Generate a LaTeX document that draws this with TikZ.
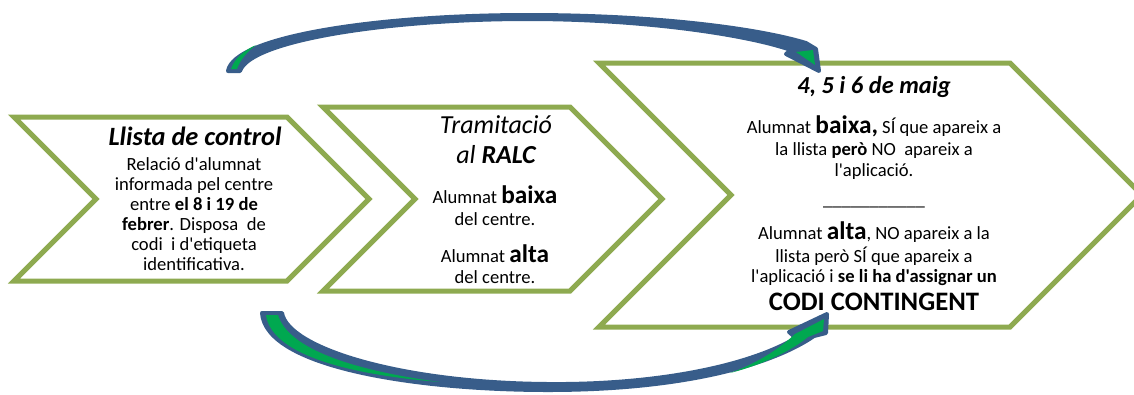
\documentclass[tikz,border=0pt]{standalone}
\usepackage{fontspec}
\setmainfont{Carlito}[Ligatures=TeXOff]
\definecolor{olive}{RGB}{142,170,80}
\definecolor{arrblue}{RGB}{56,93,138}
\definecolor{arrgreen}{RGB}{0,168,80}
\newcommand{\bigb}[1]{{\fontsize{19}{20}\selectfont\bfseries #1}}
\tikzset{
  chev/.style={draw=olive, line width=3.75pt, fill=white, line join=miter},
  blockarrow/.style={draw=arrblue, fill=arrblue, line width=3pt, line join=round},
  arrowfill/.style={fill=arrgreen},
  body/.style={font=\fontsize{13.95}{16}\selectfont, inner sep=0pt, anchor=base},
  headbi/.style={font=\fontsize{19.8}{22}\selectfont\bfseries\itshape, inner sep=0pt, anchor=base},
  headi/.style={font=\fontsize{19.5}{22}\selectfont\itshape, inner sep=0pt, anchor=base},
}
\begin{document}
\begin{tikzpicture}[x=0.75pt,y=-0.75pt]
\useasboundingbox (0,0) rectangle (1134,394);
% chevrons
\draw[chev] (14,117) -- (287,117) -- (369,199) -- (287,281) -- (14,281) -- (96,199) -- cycle;
\draw[chev] (323,107) -- (570,107) -- (662,199) -- (570,291) -- (323,291) -- (415,199) -- cycle;
\draw[chev] (599,63) -- (1010,63) -- (1142,195) -- (1010,327) -- (599,327) -- (731,195) -- cycle;
% chevron 1 text
\node[headbi] (t1) at (195,145) {Llista de control};
\node[body] (l1a) at (194,170) {Relació d'alumnat};
\node[body] (l1b) at (194,190) {informada pel centre};
\node[body] (l1c) at (194,210) {entre \textbf{el 8 i 19 de}};
\node[body] (l1d) at (194,230) {\textbf{febrer}. Disposa\ \ de};
\node[body] (l1e) at (194,250) {codi\ \ i d'etiqueta};
\node[body] (l1f) at (194,270) {identificativa.};
% chevron 2 text
\node[headi] (t2a) at (496,133) {Tramitació};
\node[headi] (t2b) at (496,163) {al \textbf{RALC}};
\node[body] (l2a) at (495,203) {Alumnat \bigb{baixa}};
\node[body] (l2b) at (495,225) {del centre.};
\node[body] (l2c) at (495,262) {Alumnat \bigb{alta}};
\node[body] (l2d) at (495,283) {del centre.};
% chevron 3 text
\node[inner sep=0pt, anchor=base, font=\fontsize{18.3}{20}\selectfont\bfseries\itshape] (t3) at (874,93) {4, 5 i 6 de maig};
\node[body] (l3a) at (874,133) {Alumnat \bigb{baixa,} SÍ que apareix a};
\node[body] (l3b) at (874,155) {la llista \textbf{però} NO\ \ apareix a};
\node[body] (l3c) at (874,176) {l'aplicació.};
\node[body] (l3d) at (874,205) {\_\_\_\_\_\_\_\_\_\_\_};
\node[body] (l3e) at (874,239) {Alumnat \bigb{alta}, NO apareix a la};
\node[body] (l3f) at (874,262) {llista però SÍ que apareix a};
\node[body] (l3g) at (874,282) {l'aplicació i \textbf{se li ha d'assignar un}};
\node[inner sep=0pt, anchor=base, font=\fontsize{20}{22}\selectfont\bfseries] (l3h) at (874,310) {CODI CONTINGENT};
% top curved arrow
\path[blockarrow] (228,71)
  .. controls (234,36) and (380,15) .. (528,15)
  .. controls (660,15) and (760,29) .. (806,43)
  -- (816,49) -- (819,71) -- (786,54) -- (791,50)
  .. controls (745,34) and (640,19) .. (528,19)
  .. controls (390,19) and (250,40) .. (240,71)
  -- cycle;
\path[arrowfill] (231,69) .. controls (235,58) and (243,51) .. (256,45)
  .. controls (247,52) and (240,60) .. (237,69) -- cycle;
\path[arrowfill] (796,52) -- (813,50) -- (815,65) -- cycle;
% bottom curved arrow
\path[blockarrow] (262,313)
  .. controls (266,368) and (420,390) .. (548,390)
  .. controls (680,390) and (770,366) .. (814,336)
  -- (826,333) -- (827,314) -- (789,332) -- (796,338)
  .. controls (745,368) and (650,385) .. (548,384)
  .. controls (400,383) and (288,348) .. (282,313)
  -- cycle;
\path[arrowfill] (266,315) .. controls (271,352) and (340,374) .. (440,382)
  .. controls (350,370) and (288,348) .. (278,315) -- cycle;
\path[arrowfill] (730,373) .. controls (765,364) and (792,350) .. (808,337)
  -- (823,331) -- (824,319) -- (795,334)
  .. controls (780,348) and (760,362) .. (730,373) -- cycle;
\end{tikzpicture}
\end{document}
